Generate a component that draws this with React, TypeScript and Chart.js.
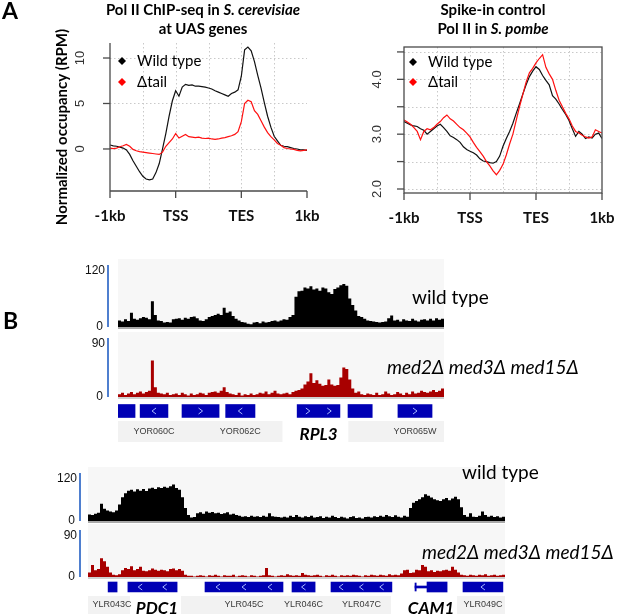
import { useEffect, useRef } from "react";
import { Chart, registerables } from "chart.js";

Chart.register(...registerables);

const W = 617;
const H = 614;
const SANS = "Lato, 'Open Sans', sans-serif";
const ARIAL = "'Liberation Sans', Arial, sans-serif";

// ---------------- Panel A data ----------------
const profileTickLabels = ["-1kb", "TSS", "TES", "1kb"];
const profileTickPos = [0, 20, 40, 60];
const profileGridPos = [10, 20, 30, 40, 50];
const seriesNames = ["Wild type", "\u0394tail"];
const scerYTicks = [0, 5, 10];
const scerYLabels = ["0", "5", "10"];
const spombeYTicks = [2, 2.5, 3, 3.5, 4, 4.5];
const spombeYLabels = ["2.0", "", "3.0", "", "4.0", ""];

const scerWT = [0.44, 0.35, 0.3, 0.2, 0.1, -0.1, -0.6, -1.3, -1.9, -2.5, -3.0, -3.3, -3.4, -3.3, -2.6, -1.6, 0.0, 1.7, 3.6, 5.3, 6.4, 5.8, 6.8, 7.1, 7.0, 7.05, 6.9, 6.9, 6.85, 6.8, 6.7, 6.6, 6.4, 6.25, 6.1, 5.95, 5.8, 6.1, 6.25, 6.5, 8.0, 10.9, 11.2, 10.8, 9.6, 8.1, 6.7, 5.1, 3.6, 2.4, 1.4, 0.9, 0.4, 0.3, 0.25, 0.15, 0.05, 0.0, -0.1, -0.1, -0.15];
const scerTail = [0.1, 0.05, 0.1, 0.25, 0.35, 0.5, 0.3, -0.05, -0.2, -0.3, -0.35, -0.4, -0.45, -0.5, -0.55, -0.6, -0.35, 0.3, 0.7, 1.1, 1.7, 1.2, 1.4, 1.6, 1.35, 1.3, 1.25, 1.3, 1.2, 1.15, 1.2, 1.1, 1.05, 1.1, 1.2, 1.25, 1.35, 1.45, 1.6, 1.9, 3.0, 5.0, 5.35, 5.2, 4.2, 3.8, 3.1, 2.4, 1.8, 1.35, 1.0, 0.6, 0.4, 0.15, 0.05, 0.0, -0.05, -0.15, -0.2, -0.15, -0.1];
const spombeWT = [3.23, 3.2, 3.17, 3.15, 3.14, 3.1, 3.07, 3.0, 3.05, 3.1, 3.15, 3.18, 3.12, 3.05, 2.97, 2.94, 2.9, 2.85, 2.77, 2.72, 2.69, 2.66, 2.62, 2.55, 2.51, 2.5, 2.48, 2.47, 2.5, 2.6, 2.78, 2.92, 3.05, 3.2, 3.38, 3.55, 3.73, 3.9, 4.05, 4.15, 4.23, 4.18, 4.07, 3.98, 3.9, 3.7, 3.64, 3.55, 3.45, 3.36, 3.25, 3.1, 2.96, 3.05, 3.0, 2.92, 2.95, 2.93, 3.0, 3.02, 2.92];
const spombeTail = [3.26, 3.22, 3.18, 3.12, 3.05, 2.9, 3.05, 3.1, 3.08, 3.12, 3.18, 3.23, 3.3, 3.35, 3.28, 3.24, 3.18, 3.12, 3.08, 3.02, 2.95, 2.85, 2.76, 2.68, 2.6, 2.5, 2.42, 2.33, 2.26, 2.34, 2.45, 2.62, 2.82, 3.0, 3.25, 3.5, 3.72, 3.95, 4.12, 4.2, 4.3, 4.38, 4.45, 4.22, 4.1, 4.0, 3.8, 3.62, 3.5, 3.38, 3.28, 3.15, 3.05, 3.02, 2.98, 2.95, 2.93, 2.95, 3.08, 3.05, 3.02];

// ---------------- Panel B data ----------------
const trackLabels = ["wild type", "med2\u0394 med3\u0394 med15\u0394"];
const wtScaleMax = 120;
const mutScaleMax = 90;

const rpl3WT = [12, 10, 14, 11, 26, 15, 13, 16, 18, 17, 14, 47, 22, 12, 11, 8, 9, 8, 14, 15, 16, 13, 17, 15, 18, 19, 16, 12, 11, 14, 18, 20, 22, 24, 22, 35, 26, 28, 20, 15, 12, 9, 8, 6, 5, 8, 9, 7, 10, 8, 9, 11, 12, 10, 12, 14, 13, 18, 22, 55, 65, 66, 72, 70, 74, 68, 70, 66, 72, 70, 63, 60, 69, 72, 76, 78, 75, 52, 40, 30, 20, 18, 15, 12, 11, 10, 9, 8, 9, 10, 16, 21, 12, 13, 10, 14, 12, 11, 15, 12, 10, 13, 14, 12, 15, 12, 16, 13, 15];
const rpl3Mut = [4, 6, 3, 5, 7, 4, 6, 8, 5, 7, 9, 52, 14, 6, 5, 4, 6, 3, 4, 5, 3, 6, 4, 2, 5, 3, 4, 6, 5, 3, 6, 7, 8, 6, 9, 14, 7, 5, 4, 3, 6, 2, 4, 3, 5, 3, 4, 6, 5, 8, 4, 6, 9, 5, 4, 5, 6, 4, 7, 9, 10, 12, 18, 22, 34, 20, 24, 19, 16, 17, 25, 18, 16, 17, 28, 42, 40, 25, 12, 6, 8, 4, 3, 5, 4, 3, 6, 3, 4, 8, 5, 3, 4, 7, 5, 3, 6, 4, 8, 5, 6, 9, 7, 6, 8, 10, 7, 9, 12];
const pdc1WT = [15, 14, 17, 19, 40, 28, 24, 22, 20, 24, 38, 55, 64, 70, 72, 68, 73, 70, 74, 69, 75, 77, 74, 78, 76, 79, 77, 80, 84, 76, 72, 55, 30, 14, 8, 9, 18, 20, 17, 22, 19, 21, 18, 19, 16, 18, 20, 15, 17, 14, 12, 10, 11, 9, 12, 10, 11, 9, 12, 10, 18, 11, 10, 9, 8, 10, 8, 12, 9, 14, 10, 8, 11, 9, 12, 8, 9, 11, 7, 10, 8, 12, 9, 7, 10, 8, 6, 9, 11, 7, 8, 6, 9, 10, 8, 11, 9, 12, 10, 14, 11, 9, 13, 10, 8, 12, 10, 30, 42, 46, 50, 55, 62, 58, 54, 50, 48, 46, 50, 53, 48, 52, 56, 50, 32, 14, 10, 18, 10, 9, 12, 22, 14, 10, 12, 9, 11, 8, 10];
const pdc1Mut = [8, 21, 12, 14, 33, 28, 18, 8, 4, 3, 5, 12, 16, 14, 19, 12, 14, 18, 11, 10, 12, 15, 13, 11, 13, 12, 10, 14, 15, 12, 14, 11, 4, 2, 2, 1, 2, 3, 2, 1, 3, 2, 4, 2, 1, 3, 2, 2, 4, 1, 2, 3, 2, 1, 3, 2, 1, 2, 3, 16, 3, 2, 1, 2, 3, 2, 5, 3, 2, 3, 2, 7, 4, 3, 2, 3, 4, 2, 1, 3, 2, 4, 2, 1, 3, 2, 3, 2, 4, 3, 2, 1, 3, 2, 4, 3, 2, 4, 3, 2, 5, 3, 4, 3, 6, 12, 13, 7, 8, 13, 12, 21, 18, 10, 12, 9, 11, 10, 12, 13, 11, 18, 13, 8, 4, 3, 2, 4, 3, 2, 4, 3, 5, 2, 3, 4, 2, 3, 4];

type Gene = { name: string; start: number; end: number; strand: number; major?: boolean; thick?: number; labelAt?: number };
const rpl3Genes: Gene[] = [
  { name: "", start: 0, end: 5.7, strand: 0 },
  { name: "YOR060C", start: 7.4, end: 16.7, strand: -1 },
  { name: "", start: 21.4, end: 33.8, strand: 1 },
  { name: "YOR062C", start: 36, end: 45.8, strand: -1 },
  { name: "RPL3", start: 59.9, end: 74.2, strand: 1, major: true },
  { name: "", start: 76.9, end: 85, strand: 0 },
  { name: "YOR065W", start: 93.6, end: 105, strand: 1 },
];
const pdc1Genes: Gene[] = [
  { name: "YLR043C", start: 6.7, end: 9.7, strand: 0, labelAt: 8 },
  { name: "PDC1", start: 13.3, end: 29.7, strand: -1, major: true, labelAt: 23 },
  { name: "YLR045C", start: 39, end: 65, strand: -1 },
  { name: "YLR046C", start: 68, end: 75.7, strand: -1 },
  { name: "YLR047C", start: 81, end: 101.3, strand: -1 },
  { name: "CAM1", start: 109, end: 119.7, thick: 113, strand: 0, major: true },
  { name: "YLR049C", start: 125, end: 138.3, strand: -1 },
];

// ---------------- helpers ----------------
type Part = { t: string; b?: boolean; i?: boolean };
const fontStr = (size: number, fam: string, b?: boolean, i?: boolean) =>
  `${i ? "italic " : ""}${b ? "bold " : ""}${size}px ${fam}`;

function drawRich(
  ctx: CanvasRenderingContext2D,
  parts: Part[],
  x: number,
  y: number,
  size: number,
  fam: string,
  align: "left" | "center" | "right",
  color: string,
  rotate = false
) {
  ctx.save();
  ctx.fillStyle = color;
  ctx.textAlign = "left";
  ctx.textBaseline = rotate ? "middle" : "alphabetic";
  const widths = parts.map((p) => {
    ctx.font = fontStr(size, fam, p.b, p.i);
    return ctx.measureText(p.t).width;
  });
  const total = widths.reduce((a, b) => a + b, 0);
  if (rotate) {
    ctx.translate(x, y);
    ctx.rotate(-Math.PI / 2);
    x = 0;
    y = 0;
  }
  let cx = align === "left" ? x : align === "center" ? x - total / 2 : x - total;
  parts.forEach((p, k) => {
    ctx.font = fontStr(size, fam, p.b, p.i);
    ctx.fillText(p.t, cx, y);
    cx += widths[k];
  });
  ctx.restore();
}

function seg(ctx: CanvasRenderingContext2D, x1: number, y1: number, x2: number, y2: number) {
  ctx.beginPath();
  ctx.moveTo(x1, y1);
  ctx.lineTo(x2, y2);
  ctx.stroke();
}

type Area = { l: number; r: number; t: number; b: number };
const baseOptions = (a: Area) => ({
  responsive: false,
  animation: false as const,
  devicePixelRatio: 1,
  events: [] as any[],
  layout: { padding: { left: a.l, top: a.t, right: W - a.r, bottom: H - a.b } },
  plugins: { legend: { display: false }, tooltip: { enabled: false } },
});

// ---------------- Panel A chart ----------------
type ProfileCfg = {
  box: boolean;
  yTicks: number[];
  yLabels: string[];
  yLabelDx: number;
  legendX: number;
  legendY: number[];
};

function profileConfig(a: Area, yMin: number, yMax: number, wt: number[], tail: number[], cfg: ProfileCfg): any {
  const toPts = (arr: number[]) => arr.map((v, i) => ({ x: i, y: v }));
  const plugin = {
    id: "rstyle",
    beforeDatasetsDraw(chart: any) {
      const { ctx, chartArea: c, scales } = chart;
      ctx.save();
      ctx.strokeStyle = "#c9c9c9";
      ctx.lineWidth = 1;
      ctx.setLineDash([1.5, 2.5]);
      cfg.yTicks.forEach((v) => {
        const py = Math.round(scales.y.getPixelForValue(v)) + 0.5;
        seg(ctx, c.left, py, c.right, py);
      });
      profileGridPos.forEach((v) => {
        const px = Math.round(scales.x.getPixelForValue(v)) + 0.5;
        seg(ctx, px, c.top, px, c.bottom);
      });
      ctx.restore();
    },
    afterDraw(chart: any) {
      const { ctx, chartArea: c, scales } = chart;
      ctx.save();
      ctx.strokeStyle = "#4a4a4a";
      ctx.lineWidth = 1.3;
      if (cfg.box) {
        ctx.strokeRect(c.left, c.top, c.right - c.left, c.bottom - c.top);
      } else {
        seg(ctx, c.left, c.top, c.left, c.bottom);
        seg(ctx, c.left, c.bottom, c.right, c.bottom);
      }
      profileTickPos.forEach((v, k) => {
        const px = scales.x.getPixelForValue(v);
        seg(ctx, px, c.bottom, px, c.bottom + 7);
        drawRich(ctx, [{ t: profileTickLabels[k], b: true }], px, c.bottom + 30, 15, SANS, "center", "#111");
      });
      cfg.yTicks.forEach((v, k) => {
        const py = scales.y.getPixelForValue(v);
        seg(ctx, c.left - 7, py, c.left, py);
        if (cfg.yLabels[k])
          drawRich(ctx, [{ t: cfg.yLabels[k] }], c.left - cfg.yLabelDx, py, 13, ARIAL, "center", "#333", true);
      });
      // legend
      const cols = ["#000000", "#ff0000"];
      seriesNames.forEach((name, k) => {
        const dx = cfg.legendX;
        const dy = cfg.legendY[k];
        ctx.fillStyle = cols[k];
        ctx.beginPath();
        ctx.moveTo(dx, dy - 4);
        ctx.lineTo(dx + 4, dy);
        ctx.lineTo(dx, dy + 4);
        ctx.lineTo(dx - 4, dy);
        ctx.closePath();
        ctx.fill();
        drawRich(ctx, [{ t: name }], dx + 15, dy + 5, 15, SANS, "left", "#000");
      });
      ctx.restore();
    },
  };
  return {
    type: "line",
    data: {
      datasets: [
        { label: seriesNames[1], data: toPts(tail), borderColor: "#ff1010", borderWidth: 1.2, pointRadius: 0, fill: false, tension: 0 },
        { label: seriesNames[0], data: toPts(wt), borderColor: "#111111", borderWidth: 1.2, pointRadius: 0, fill: false, tension: 0 },
      ],
    },
    options: {
      ...baseOptions(a),
      scales: {
        x: { type: "linear", display: false, min: 0, max: 60 },
        y: { type: "linear", display: false, min: yMin, max: yMax },
      },
    },
    plugins: [plugin],
  };
}

// ---------------- Panel B tracks ----------------
type TrackCfg = { maxLabel: string; barGap: number; base: string; label: Part[]; labelX: number; labelY: number };

function trackConfig(values: number[], a: Area, max: number, color: string, cfg: TrackCfg): any {
  const pts = values.map((v, i) => ({ x: i, y: v }));
  pts.push({ x: values.length, y: values[values.length - 1] });
  const plugin = {
    id: "track",
    beforeDraw(chart: any) {
      const { ctx, chartArea: c } = chart;
      ctx.save();
      ctx.fillStyle = "#f7f7f7";
      ctx.fillRect(c.left, c.top - 2, c.right - c.left, c.bottom - c.top + 2);
      ctx.restore();
    },
    afterDatasetsDraw(chart: any) {
      const { ctx, chartArea: c } = chart;
      ctx.save();
      ctx.fillStyle = cfg.base;
      ctx.fillRect(c.left, c.bottom, c.right - c.left, 2);
      const bx = c.left - cfg.barGap;
      ctx.strokeStyle = "#4f7fcf";
      ctx.lineWidth = 2;
      seg(ctx, bx, c.top + 4, bx, c.bottom);
      drawRich(ctx, [{ t: cfg.maxLabel }], bx - 3, c.top + 13, 12, ARIAL, "right", "#111");
      drawRich(ctx, [{ t: "0" }], bx - 5, c.bottom + 3, 12, ARIAL, "right", "#111");
      drawRich(ctx, cfg.label, cfg.labelX, cfg.labelY, 19, SANS, "left", "#000");
      ctx.restore();
    },
  };
  return {
    type: "line",
    data: {
      datasets: [
        {
          data: pts,
          stepped: true,
          fill: "origin",
          backgroundColor: color,
          borderColor: "rgba(0,0,0,0)",
          borderWidth: 0,
          pointRadius: 0,
        },
      ],
    },
    options: {
      ...baseOptions(a),
      scales: {
        x: { type: "linear", display: false, min: 0, max: values.length },
        y: { type: "linear", display: false, min: 0, max },
      },
    },
    plugins: [plugin],
  };
}

// ---------------- Panel B genes ----------------
type GeneCfg = { rowTop: number; rowBottom: number; labelY: number; majorY: number; whites: number[][]; extra?: any };

function geneConfig(genes: Gene[], nBins: number, a: Area, thickness: number, cfg: GeneCfg): any {
  const BLUE = "#0000b4";
  const datasets: any[] = [];
  genes.forEach((g) => {
    const ts = g.thick ?? g.start;
    if (g.thick != null) {
      datasets.push({ data: [[g.start, g.thick]], barThickness: 2, backgroundColor: BLUE, grouped: false, borderWidth: 0 });
      datasets.push({ data: [[g.start, g.start + 0.4]], barThickness: thickness - 2, backgroundColor: BLUE, grouped: false, borderWidth: 0 });
    }
    datasets.push({ data: [[ts, g.end]], barThickness: thickness, backgroundColor: BLUE, grouped: false, borderWidth: 0 });
  });
  const plugin = {
    id: "genes",
    beforeDraw(chart: any) {
      const { ctx, chartArea: c, scales } = chart;
      ctx.save();
      ctx.fillStyle = "#f2f2f2";
      ctx.fillRect(c.left, cfg.rowTop, c.right - c.left, cfg.rowBottom - cfg.rowTop);
      ctx.fillStyle = "#ffffff";
      cfg.whites.forEach(([s, e]) => {
        const x1 = scales.x.getPixelForValue(s);
        const x2 = scales.x.getPixelForValue(e);
        ctx.fillRect(x1, cfg.rowTop, x2 - x1, cfg.rowBottom - cfg.rowTop);
      });
      ctx.restore();
    },
    afterDatasetsDraw(chart: any) {
      const { ctx, scales } = chart;
      const cy = scales.y.getPixelForValue(0);
      ctx.save();
      ctx.strokeStyle = "#a8b8ff";
      ctx.lineWidth = 1;
      genes.forEach((g) => {
        const x1 = scales.x.getPixelForValue(g.thick ?? g.start);
        const x2 = scales.x.getPixelForValue(g.end);
        const w = x2 - x1;
        if (g.strand !== 0 && w > 14) {
          const n = Math.max(1, Math.floor(w / 20));
          for (let j = 0; j < n; j++) {
            const px = x1 + (w * (j + 0.5)) / n;
            const d = g.strand < 0 ? 2 : -2;
            ctx.beginPath();
            ctx.moveTo(px + d, cy - 3);
            ctx.lineTo(px - d, cy);
            ctx.lineTo(px + d, cy + 3);
            ctx.stroke();
          }
        }
        if (g.name) {
          const mid = scales.x.getPixelForValue(g.labelAt ?? (g.start + g.end) / 2);
          if (g.major) drawRich(ctx, [{ t: g.name, b: true, i: true }], mid, cfg.majorY, 17, SANS, "center", "#000");
          else drawRich(ctx, [{ t: g.name }], mid, cfg.labelY, 9, ARIAL, "center", "#3a3a3a");
        }
      });
      ctx.restore();
      if (cfg.extra) cfg.extra(ctx);
    },
  };
  return {
    type: "bar",
    data: { labels: ["genes"], datasets },
    options: {
      ...baseOptions(a),
      indexAxis: "y",
      scales: {
        x: { type: "linear", display: false, min: 0, max: nBins },
        y: { type: "category", display: false },
      },
    },
    plugins: [plugin],
  };
}

// ---------------- figure-level texts ----------------
function drawFigureTexts(ctx: CanvasRenderingContext2D) {
  drawRich(ctx, [{ t: "A", b: true }], 2, 19, 23, SANS, "left", "#000");
  drawRich(ctx, [{ t: "B", b: true }], 3, 329, 23, SANS, "left", "#000");
  drawRich(ctx, [{ t: "Pol II ChIP-seq in ", b: true }, { t: "S. cerevisiae", b: true, i: true }], 203, 15, 15, SANS, "center", "#000");
  drawRich(ctx, [{ t: "at UAS genes", b: true }], 203, 34, 15, SANS, "center", "#000");
  drawRich(ctx, [{ t: "Spike-in control", b: true }], 493, 15, 15, SANS, "center", "#000");
  drawRich(ctx, [{ t: "Pol II in ", b: true }, { t: "S. pombe", b: true, i: true }], 493, 34, 15, SANS, "center", "#000");
  drawRich(ctx, [{ t: "Normalized occupancy (RPM)", b: true }], 62, 127, 15, SANS, "center", "#000", true);
}

export default function App() {
  const r0 = useRef<HTMLCanvasElement>(null);
  const r1 = useRef<HTMLCanvasElement>(null);
  const r2 = useRef<HTMLCanvasElement>(null);
  const r3 = useRef<HTMLCanvasElement>(null);
  const r4 = useRef<HTMLCanvasElement>(null);
  const r5 = useRef<HTMLCanvasElement>(null);
  const r6 = useRef<HTMLCanvasElement>(null);
  const r7 = useRef<HTMLCanvasElement>(null);
  const refs = [r0, r1, r2, r3, r4, r5, r6, r7];

  useEffect(() => {
    const configs: any[] = [
      profileConfig({ l: 110, r: 307, t: 43, b: 191 }, -4.62, 11.65, scerWT, scerTail, {
        box: false,
        yTicks: scerYTicks,
        yLabels: scerYLabels,
        yLabelDx: 30,
        legendX: 122,
        legendY: [61, 82],
      }),
      profileConfig({ l: 404, r: 602, t: 47, b: 193 }, 1.927, 4.59, spombeWT, spombeTail, {
        box: true,
        yTicks: spombeYTicks,
        yLabels: spombeYLabels,
        yLabelDx: 27,
        legendX: 413,
        legendY: [62, 82],
      }),
      trackConfig(rpl3WT, { l: 118, r: 444, t: 261, b: 327 }, wtScaleMax, "#000000", {
        maxLabel: String(wtScaleMax), barGap: 10, base: "#a9a9a9",
        label: [{ t: trackLabels[0] }], labelX: 412, labelY: 304,
      }),
      trackConfig(rpl3Mut, { l: 118, r: 444, t: 334, b: 397 }, mutScaleMax, "#a80000", {
        maxLabel: String(mutScaleMax), barGap: 10, base: "#d0d0d0",
        label: [{ t: trackLabels[1], i: true }], labelX: 387, labelY: 374,
      }),
      geneConfig(rpl3Genes, rpl3WT.length, { l: 118, r: 444, t: 398, b: 424 }, 13, {
        rowTop: 421, rowBottom: 442, labelY: 434, majorY: 440, whites: [[55, 77]],
      }),
      trackConfig(pdc1WT, { l: 88, r: 505, t: 469, b: 521 }, wtScaleMax, "#000000", {
        maxLabel: String(wtScaleMax), barGap: 8, base: "#a9a9a9",
        label: [{ t: trackLabels[0] }], labelX: 462, labelY: 479,
      }),
      trackConfig(pdc1Mut, { l: 88, r: 505, t: 526, b: 577 }, mutScaleMax, "#a80000", {
        maxLabel: String(mutScaleMax), barGap: 8, base: "#d0d0d0",
        label: [{ t: trackLabels[1], i: true }], labelX: 422, labelY: 559,
      }),
      geneConfig(pdc1Genes, pdc1WT.length, { l: 88, r: 505, t: 577, b: 597 }, 10, {
        rowTop: 596, rowBottom: 614, labelY: 607, majorY: 614, whites: [[14, 31], [101, 123]],
        extra: drawFigureTexts,
      }),
    ];
    const charts = configs.map((cfg, k) => new Chart(refs[k].current as HTMLCanvasElement, cfg));
    return () => charts.forEach((c) => c.destroy());
  }, []);

  return (
    <div style={{ position: "absolute", left: 0, top: 0, width: W, height: H, background: "#ffffff", overflow: "hidden" }}>
      {refs.map((r, k) => (
        <canvas key={k} ref={r} width={W} height={H} style={{ position: "absolute", left: 0, top: 0, width: W, height: H }} />
      ))}
    </div>
  );
}
